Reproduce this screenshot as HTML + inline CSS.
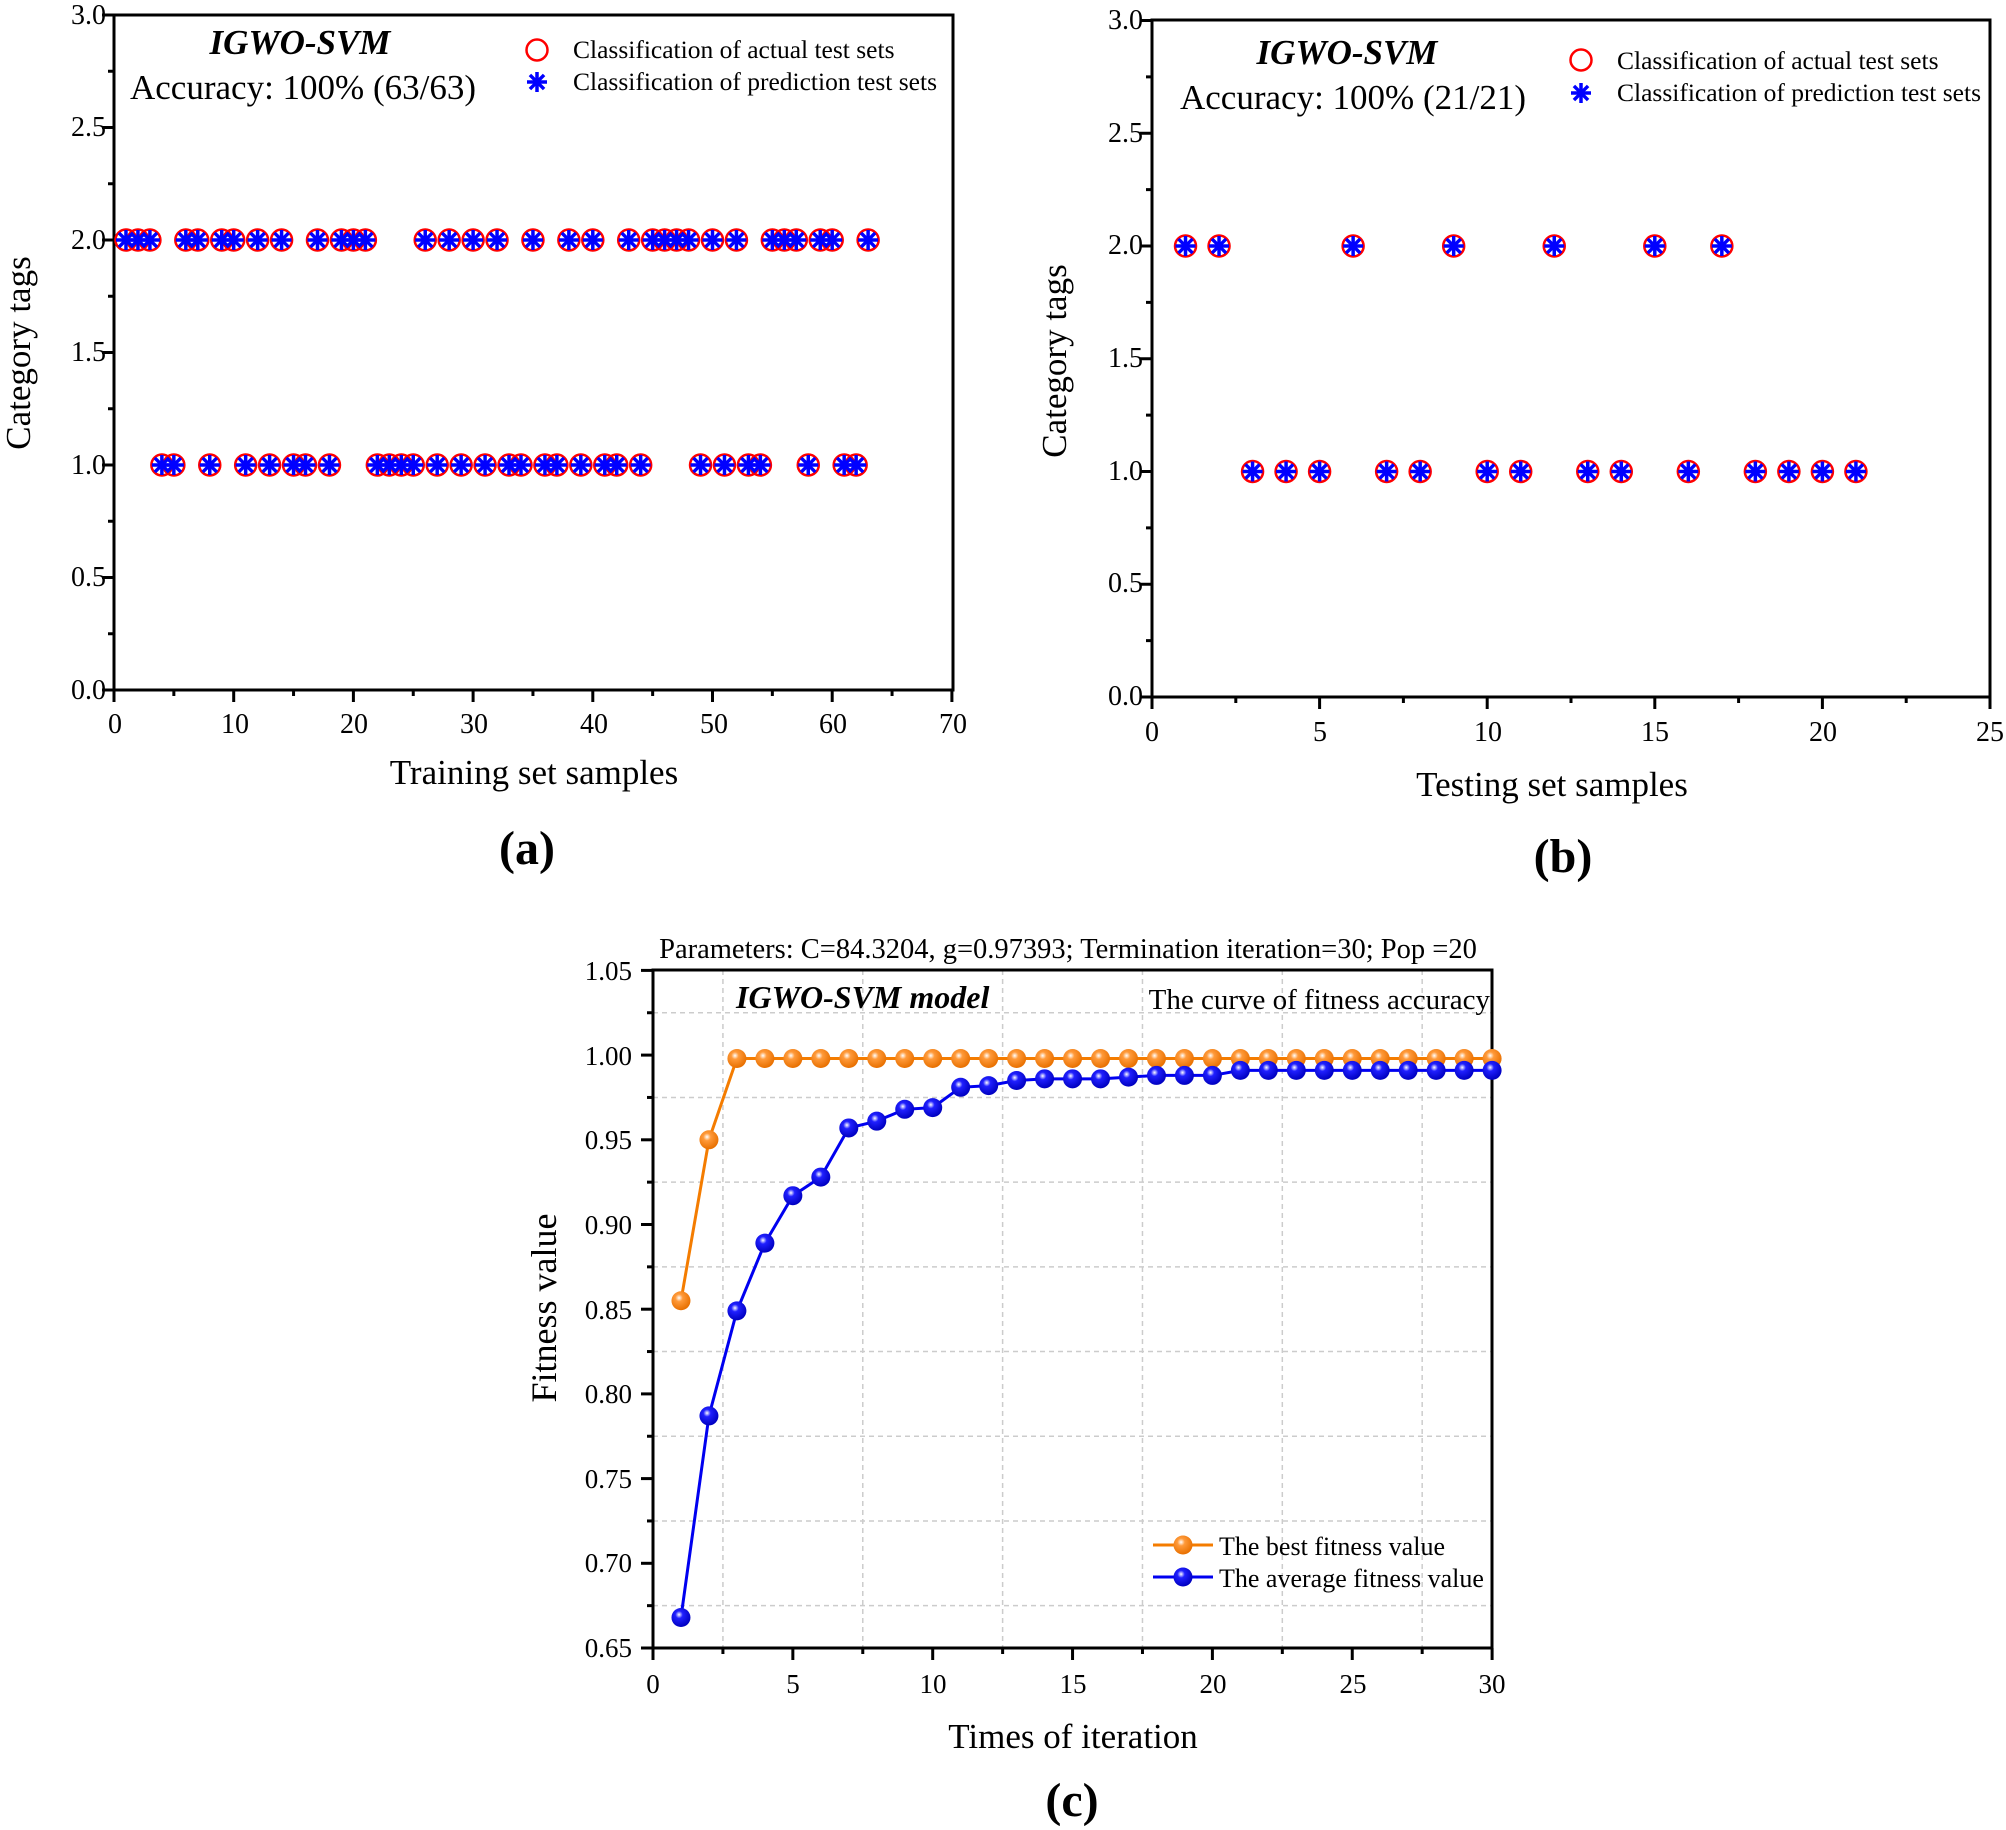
<!DOCTYPE html>
<html><head><meta charset="utf-8"><style>
html,body{margin:0;padding:0;background:#fff}
svg{display:block;font-family:"Liberation Serif",serif}
</style></head><body>
<svg id="s" width="2006" height="1830" viewBox="0 0 2006 1830" xmlns="http://www.w3.org/2000/svg">
<defs>
<radialGradient id="go" cx="0.4" cy="0.35" r="0.65"><stop offset="0" stop-color="#fff"/><stop offset="0.3" stop-color="#ff9a3a"/><stop offset="1" stop-color="#e87000"/></radialGradient>
<radialGradient id="gb" cx="0.4" cy="0.35" r="0.65"><stop offset="0" stop-color="#fff"/><stop offset="0.3" stop-color="#2020ff"/><stop offset="1" stop-color="#0000c0"/></radialGradient>
</defs>
<g id="g"></g>
<!-- Panel a text -->
<g font-size="28" text-anchor="end">
<text x="106" y="699">0.0</text><text x="106" y="586">0.5</text><text x="106" y="474">1.0</text><text x="106" y="361">1.5</text><text x="106" y="249">2.0</text><text x="106" y="136">2.5</text><text x="106" y="24">3.0</text>
</g>
<g font-size="28" text-anchor="middle">
<text x="115" y="733">0</text><text x="235" y="733">10</text><text x="354" y="733">20</text><text x="474" y="733">30</text><text x="594" y="733">40</text><text x="714" y="733">50</text><text x="833" y="733">60</text><text x="953" y="733">70</text>
</g>
<text x="534" y="784" font-size="35" text-anchor="middle">Training set samples</text>
<text x="527" y="864" font-size="48" font-weight="bold" text-anchor="middle">(a)</text>
<text transform="translate(30,353) rotate(-90)" font-size="35" text-anchor="middle">Category tags</text>
<text x="300" y="54" font-size="35" font-weight="bold" font-style="italic" text-anchor="middle">IGWO-SVM</text>
<text x="130" y="99" font-size="35">Accuracy: 100% (63/63)</text>
<text x="573" y="58" font-size="25.5">Classification of actual test sets</text>
<text x="573" y="90" font-size="25.5">Classification of prediction test sets</text>
<!-- Panel b text -->
<g font-size="28" text-anchor="end">
<text x="1143" y="705">0.0</text><text x="1143" y="592">0.5</text><text x="1143" y="480">1.0</text><text x="1143" y="367">1.5</text><text x="1143" y="254">2.0</text><text x="1143" y="142">2.5</text><text x="1143" y="29">3.0</text>
</g>
<g font-size="28" text-anchor="middle">
<text x="1152" y="741">0</text><text x="1320" y="741">5</text><text x="1488" y="741">10</text><text x="1655" y="741">15</text><text x="1823" y="741">20</text><text x="1990" y="741">25</text>
</g>
<text x="1552" y="796" font-size="35" text-anchor="middle">Testing set samples</text>
<text x="1563" y="872" font-size="48" font-weight="bold" text-anchor="middle">(b)</text>
<text transform="translate(1066,361) rotate(-90)" font-size="35" text-anchor="middle">Category tags</text>
<text x="1347" y="64" font-size="35" font-weight="bold" font-style="italic" text-anchor="middle">IGWO-SVM</text>
<text x="1180" y="109" font-size="35">Accuracy: 100% (21/21)</text>
<text x="1617" y="69" font-size="25.5">Classification of actual test sets</text>
<text x="1617" y="101" font-size="25.5">Classification of prediction test sets</text>
<!-- Panel c text -->
<text x="1068" y="958" font-size="28.5" text-anchor="middle">Parameters: C=84.3204, g=0.97393; Termination iteration=30; Pop =20</text>
<g font-size="27" text-anchor="end">
<text x="632" y="980">1.05</text><text x="632" y="1065">1.00</text><text x="632" y="1149">0.95</text><text x="632" y="1234">0.90</text><text x="632" y="1319">0.85</text><text x="632" y="1403">0.80</text><text x="632" y="1488">0.75</text><text x="632" y="1572">0.70</text><text x="632" y="1657">0.65</text>
</g>
<g font-size="27" text-anchor="middle">
<text x="653" y="1693">0</text><text x="793" y="1693">5</text><text x="933" y="1693">10</text><text x="1073" y="1693">15</text><text x="1213" y="1693">20</text><text x="1353" y="1693">25</text><text x="1492" y="1693">30</text>
</g>
<text x="1073" y="1748" font-size="35" text-anchor="middle">Times of iteration</text>
<text x="1072" y="1816" font-size="48" font-weight="bold" text-anchor="middle">(c)</text>
<text transform="translate(556,1308) rotate(-90)" font-size="36" text-anchor="middle">Fitness value</text>
<text x="736" y="1008" font-size="32" font-weight="bold" font-style="italic">IGWO-SVM model</text>
<text x="1490" y="1009" font-size="29" text-anchor="end">The curve of fitness accuracy</text>
<text x="1219" y="1555" font-size="26">The best fitness value</text>
<text x="1219" y="1587" font-size="26">The average fitness value</text>
</svg>
<script>
var g=document.getElementById('g'),h='';
function L(x1,y1,x2,y2,c,w,d){h+='<line x1="'+x1+'" y1="'+y1+'" x2="'+x2+'" y2="'+y2+'" stroke="'+(c||'#000')+'" stroke-width="'+(w||3)+'"'+(d?' stroke-dasharray="'+d+'"':'')+'/>';}
function frame(l,t,r,b){h+='<rect x="'+l+'" y="'+t+'" width="'+(r-l)+'" height="'+(b-t)+'" fill="none" stroke="#000" stroke-width="3"/>';}
function circ(x,y){h+='<circle cx="'+x+'" cy="'+y+'" r="10.5" fill="none" stroke="#f00" stroke-width="2.5"/>';}
function ast(x,y){var r=10;for(var k=0;k<4;k++){var a=k*Math.PI/4;L(x-r*Math.cos(a),y-r*Math.sin(a),x+r*Math.cos(a),y+r*Math.sin(a),'#00f',3.5);}}
(function(){var X=v=>114+v*11.97,Y=v=>690-v*225;
frame(114,15,953,690);
for(var i=0;i<=14;i++){L(X(i*5),690,X(i*5),690+(i%2?6:12));}
for(var i=0;i<=12;i++){L(114,Y(i*0.25),114-(i%2?6:12),Y(i*0.25));}
var t=[1,2,3,6,7,9,10,12,14,17,19,20,21,26,28,30,32,35,38,40,43,45,46,47,48,50,52,55,56,57,59,60,63];
var o=[4,5,8,11,13,15,16,18,22,23,24,25,27,29,31,33,34,36,37,39,41,42,44,49,51,53,54,58,61,62];
t.forEach(v=>circ(X(v),Y(2)));o.forEach(v=>circ(X(v),Y(1)));
t.forEach(v=>ast(X(v),Y(2)));o.forEach(v=>ast(X(v),Y(1)));
circ(537,50);ast(537,82);})();
(function(){var X=v=>1152+v*33.52,Y=v=>697-v*225.5;
frame(1152,20,1990,697);
for(var i=0;i<=10;i++){L(X(i*2.5),697,X(i*2.5),697+(i%2?6:12));}
for(var i=0;i<=12;i++){L(1152,Y(i*0.25),1152-(i%2?6:12),Y(i*0.25));}
var t=[1,2,6,9,12,15,17],o=[3,4,5,7,8,10,11,13,14,16,18,19,20,21];
t.forEach(v=>{circ(X(v),Y(2));ast(X(v),Y(2));});o.forEach(v=>{circ(X(v),Y(1));ast(X(v),Y(1));});
circ(1581,60);ast(1581,93);})();
(function(){var X=v=>653+v*27.97,Y=v=>1648-(v-0.65)*1694;
for(var i=1;i<12;i+=2)L(X(i*2.5),970,X(i*2.5),1648,'#ccc',1.5,'5,4');
for(var i=1;i<16;i+=2)L(653,Y(0.65+i*0.025),1492,Y(0.65+i*0.025),'#ccc',1.5,'5,4');
frame(653,970,1492,1648);
for(var i=0;i<=12;i++){L(X(i*2.5),1648,X(i*2.5),1648+(i%2?6:12));}
for(var i=0;i<=16;i++){L(653,Y(0.65+i*0.025),653-(i%2?6:12),Y(0.65+i*0.025));}
var b=[0.855,0.95];for(var i=3;i<=30;i++)b.push(0.998);
var a=[0.668,0.787,0.849,0.889,0.917,0.928,0.957,0.961,0.968,0.969,0.981,0.982,0.985,0.986,0.986,0.986,0.987,0.988,0.988,0.988,0.991,0.991,0.991,0.991,0.991,0.991,0.991,0.991,0.991,0.991];
function ser(d,c,gr){var p=d.map((v,i)=>X(i+1)+','+Y(v)).join(' ');h+='<polyline points="'+p+'" fill="none" stroke="'+c+'" stroke-width="3"/>';
d.forEach((v,i)=>{h+='<circle cx="'+X(i+1)+'" cy="'+Y(v)+'" r="9.5" fill="url(#'+gr+')"/>';});}
ser(b,'#f47c00','go');ser(a,'#0000f0','gb');
L(1153,1545,1213,1545,'#f47c00',3);h+='<circle cx="1183" cy="1545" r="9.5" fill="url(#go)"/>';
L(1153,1577,1213,1577,'#0000f0',3);h+='<circle cx="1183" cy="1577" r="9.5" fill="url(#gb)"/>';
})();
g.innerHTML=h;
</script>
</body></html>
